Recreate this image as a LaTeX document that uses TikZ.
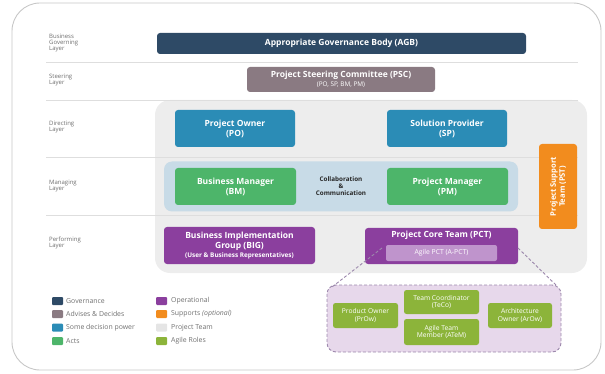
\documentclass[tikz,border=0pt]{standalone}
\usepackage{fontspec}
\setmainfont{Open Sans}
\definecolor{cgov}{HTML}{2E4A66}
\definecolor{cpsc}{HTML}{8A7A82}
\definecolor{cdec}{HTML}{2B8CB6}
\definecolor{cact}{HTML}{4DB56A}
\definecolor{cops}{HTML}{8B3F9E}
\definecolor{csup}{HTML}{F28C1E}
\definecolor{cband}{HTML}{C8DBE7}
\definecolor{cteam}{HTML}{EDEDED}
\definecolor{cagile}{HTML}{8CB43A}
\definecolor{cabox}{HTML}{E7D8EB}
\definecolor{capct}{HTML}{BF94CC}
\definecolor{cdash}{HTML}{9C88AC}
\definecolor{clabel}{HTML}{6E6E6E}
\definecolor{cleg}{HTML}{707070}
\begin{document}
\begin{tikzpicture}[x=1pt,y=-1pt,
  box/.style={rounded corners=3pt, text=white, align=center, inner sep=1pt, font=\fontsize{8.5}{10}\selectfont\bfseries},
  agbox/.style={rounded corners=2.5pt, fill=cagile, text=white, align=center, inner sep=1pt, font=\fontsize{6.7}{7.6}\selectfont},
  layerlbl/.style={anchor=west, align=left, text=clabel, font=\fontsize{6}{5.8}\selectfont, inner sep=0pt},
  sep/.style={draw=black!13, line width=0.6pt},
  legsq/.style={rounded corners=1pt, minimum width=11pt, minimum height=8pt, inner sep=0pt},
  legtx/.style={anchor=west, text=cleg, font=\fontsize{6.9}{7}\selectfont, inner sep=0pt},
  dashln/.style={draw=cdash, dashed, dash pattern=on 3pt off 2pt, line width=0.9pt}
]
\useasboundingbox (0,0) rectangle (605,374);
% outer frame
\draw[black!22, line width=0.9pt, rounded corners=28pt] (12,3) rectangle (601,370);
% project team panel
\fill[cteam, rounded corners=15pt] (155,100) rectangle (587,273);
% separator lines
\draw[sep] (46,62) -- (578,62);
\draw[sep] (46,100) -- (578,100);
\draw[sep] (46,157) -- (578,157);
\draw[sep] (46,215) -- (578,215);
% layer labels
\node[layerlbl] (l1) at (49,43) {Business\\Governing\\Layer};
\node[layerlbl] (l2) at (49,80) {Steering\\Layer};
\node[layerlbl] (l3) at (49,127) {Directing\\Layer};
\node[layerlbl] (l4) at (49,186) {Managing\\Layer};
\node[layerlbl] (l5) at (49,243) {Performing\\Layer};
% AGB
\node[box, fill=cgov, minimum width=369pt, minimum height=21pt] (agb) at (341.5,43.5) {Appropriate Governance Body (AGB)};
% PSC
\node[box, fill=cpsc, minimum width=188pt, minimum height=25pt] (psc) at (341,79.5) {Project Steering Committee (PSC)\\[-1pt]{\fontsize{6.4}{7}\selectfont\mdseries (PO, SP, BM, PM)}};
% directing
\node[box, fill=cdec, minimum width=120pt, minimum height=37pt] (po) at (235,128.5) {Project Owner\\(PO)};
\node[box, fill=cdec, minimum width=120pt, minimum height=37pt] (sp) at (447,128.5) {Solution Provider\\(SP)};
% managing band
\node[fill=cband, rounded corners=8pt, minimum width=354pt, minimum height=50pt, inner sep=0pt] (band) at (341,186.5) {};
\node[box, fill=cact, minimum width=121pt, minimum height=37pt] (bm) at (235.5,186.5) {Business Manager\\(BM)};
\node[box, fill=cact, minimum width=121pt, minimum height=37pt] (pm) at (447.5,186.5) {Project Manager\\(PM)};
\node[align=center, text=black!85, font=\fontsize{6.3}{7.2}\selectfont\bfseries, inner sep=0pt] (collab) at (341,186) {Collaboration\\\&\\Communication};
% PST
\node[box, fill=csup, rotate=90, minimum width=85pt, minimum height=38pt, font=\fontsize{7.6}{9}\selectfont\bfseries] (pst) at (558,186.5) {Project Support\\Team (PST)};
% performing
\node[box, fill=cops, minimum width=151pt, minimum height=37pt] (big) at (239.5,245.5) {Business Implementation\\Group (BIG)\\[-1pt]{\fontsize{6.4}{7.5}\selectfont (User \& Business Representatives)}};
\node[box, fill=cops, minimum width=153pt, minimum height=36pt] (pct) at (441.5,246) {};
\node[text=white, font=\fontsize{8.5}{10}\selectfont\bfseries, inner sep=0pt] (pcttitle) at (441.5,235.5) {Project Core Team (PCT)};
\node[rounded corners=2pt, fill=capct, text=white, minimum width=111pt, minimum height=16pt, inner sep=0pt, font=\fontsize{6.8}{8}\selectfont] (apct) at (441.5,253) {Agile PCT (A-PCT)};
% agile box
\node[draw=cdash, dashed, dash pattern=on 3pt off 2pt, line width=0.9pt, fill=cabox, rounded corners=9pt, minimum width=234pt, minimum height=67pt, inner sep=0pt] (agile) at (444,318.5) {};
\coordinate (dl1) at (382,248);
\coordinate (dl2) at (518,248);
\coordinate (dl3) at (332,287);
\coordinate (dl4) at (557,286);
\draw[dashln] (dl1) -- (dl3);
\draw[dashln] (dl2) -- (dl4);
\node[agbox, minimum width=65pt, minimum height=25pt] (prow) at (365.5,315.5) {Product Owner\\(PrOw)};
\node[agbox, minimum width=75pt, minimum height=24pt] (teco) at (441.5,302) {Team Coordinator\\(TeCo)};
\node[agbox, minimum width=75pt, minimum height=26pt] (atem) at (441.5,332) {Agile Team\\Member (ATeM)};
\node[agbox, minimum width=64pt, minimum height=25pt] (arow) at (520,315.5) {Architecture\\Owner (ArOw)};
% legend
\node[legsq, fill=cgov] (s1) at (57.5,301) {};
\node[legtx] (t1) at (66,301) {Governance};
\node[legsq, fill=cpsc] (s2) at (57.5,314) {};
\node[legtx] (t2) at (66,314) {Advises \& Decides};
\node[legsq, fill=cdec] (s3) at (57.5,327.5) {};
\node[legtx] (t3) at (66,327.5) {Some decision power};
\node[legsq, fill=cact] (s4) at (57.5,341) {};
\node[legtx] (t4) at (66,341) {Acts};
\node[legsq, fill=cops] (s5) at (161.5,301) {};
\node[legtx] (t5) at (171,301) {Operational};
\node[legsq, fill=csup] (s6) at (161.5,314) {};
\node[legtx] (t6) at (171,314) {Supports \textit{(optional)}};
\node[legsq, fill=black!10] (s7) at (161.5,327.5) {};
\node[legtx] (t7) at (171,327.5) {Project Team};
\node[legsq, fill=cagile] (s8) at (161.5,341) {};
\node[legtx] (t8) at (171,341) {Agile Roles};
\end{tikzpicture}
\end{document}
